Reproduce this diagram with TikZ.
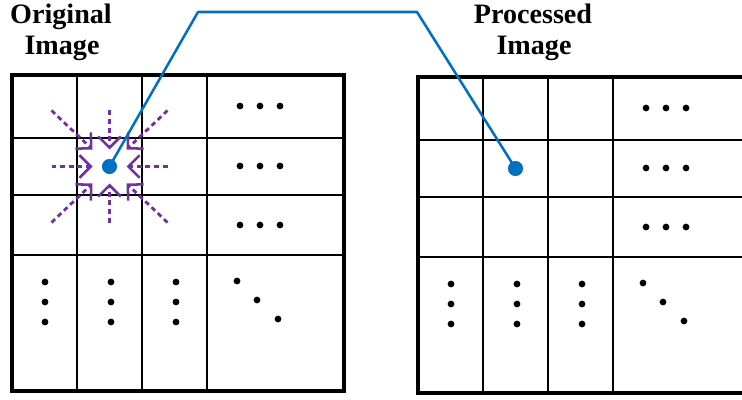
\documentclass[tikz,border=0pt]{standalone}
\usepackage{fontspec}
\setmainfont{Liberation Serif}
\usetikzlibrary{arrows.meta,calc}
\definecolor{linkblue}{RGB}{0,112,192}
\definecolor{kernpurple}{RGB}{112,48,160}

\begin{document}
\begin{tikzpicture}[x=0.025cm,y=-0.025cm,
  title/.style={font=\bfseries\fontsize{20}{22}\selectfont, inner sep=0pt, anchor=base},
  cellline/.style={line width=1.4pt},
  frame/.style={line width=2.4pt},
  nbr/.style={kernpurple, line width=2pt, dash pattern=on 3.5pt off 2.6pt, -{Straight Barb[length=8pt,width=16pt,line width=1.8pt]}},
  link/.style={linkblue, line width=1.8pt, line join=round},
  pix/.style={circle, fill=linkblue, inner sep=0pt, minimum size=10.5pt}]
\useasboundingbox (0,0) rectangle (742,400);
\clip (0,0) rectangle (742,400);
\node[title] (orig1) at (61,24) {Original}; \node[title] (orig2) at (62,55) {Image};
\node[title] (proc1) at (533,24) {Processed}; \node[title] (proc2) at (534,55) {Image};
% both grids, the right one shifted
\foreach \dx/\dy in {0/0,406/2} {
  \begin{scope}[shift={(\dx,\dy)}]
  \foreach \x in {77,142,207} { \draw[cellline] (\x,75) -- (\x,391); };
  \foreach \y in {138,195,255} { \draw[cellline] (12,\y) -- (344,\y); };
  \draw[frame] (12,75) rectangle (344,391);
  \foreach \y in {106,166,225} { \foreach \x in {240,260,280} { \fill (\x,\y) circle[radius=2.4pt]; }; };
  \foreach \x in {45,111,176} { \foreach \y in {282,302,322} { \fill (\x,\y) circle[radius=2.4pt]; }; };
  \foreach \x/\y in {237/281,257/300,278/319} { \fill (\x,\y) circle[radius=2.4pt]; };
  \end{scope}
}
\node[pix] (src) at (109.5,166.5) {}; \node[pix] (dst) at (515.5,168.5) {};
\foreach \u/\v in {1/0,1/1,0/1,-1/1,-1/0,-1/-1,0/-1,1/-1} { \draw[nbr] ($(src)+(58*\u,56*\v)$) -- ($(src)+(17*\u,17*\v)$); };
\coordinate (bendL) at (198,12); \coordinate (bendR) at (417,12);
\draw[link] (src.center) -- (bendL) -- (bendR) -- (dst.center);
\node[pix] at (src) {}; \node[pix] at (dst) {};
\end{tikzpicture}
\end{document}
